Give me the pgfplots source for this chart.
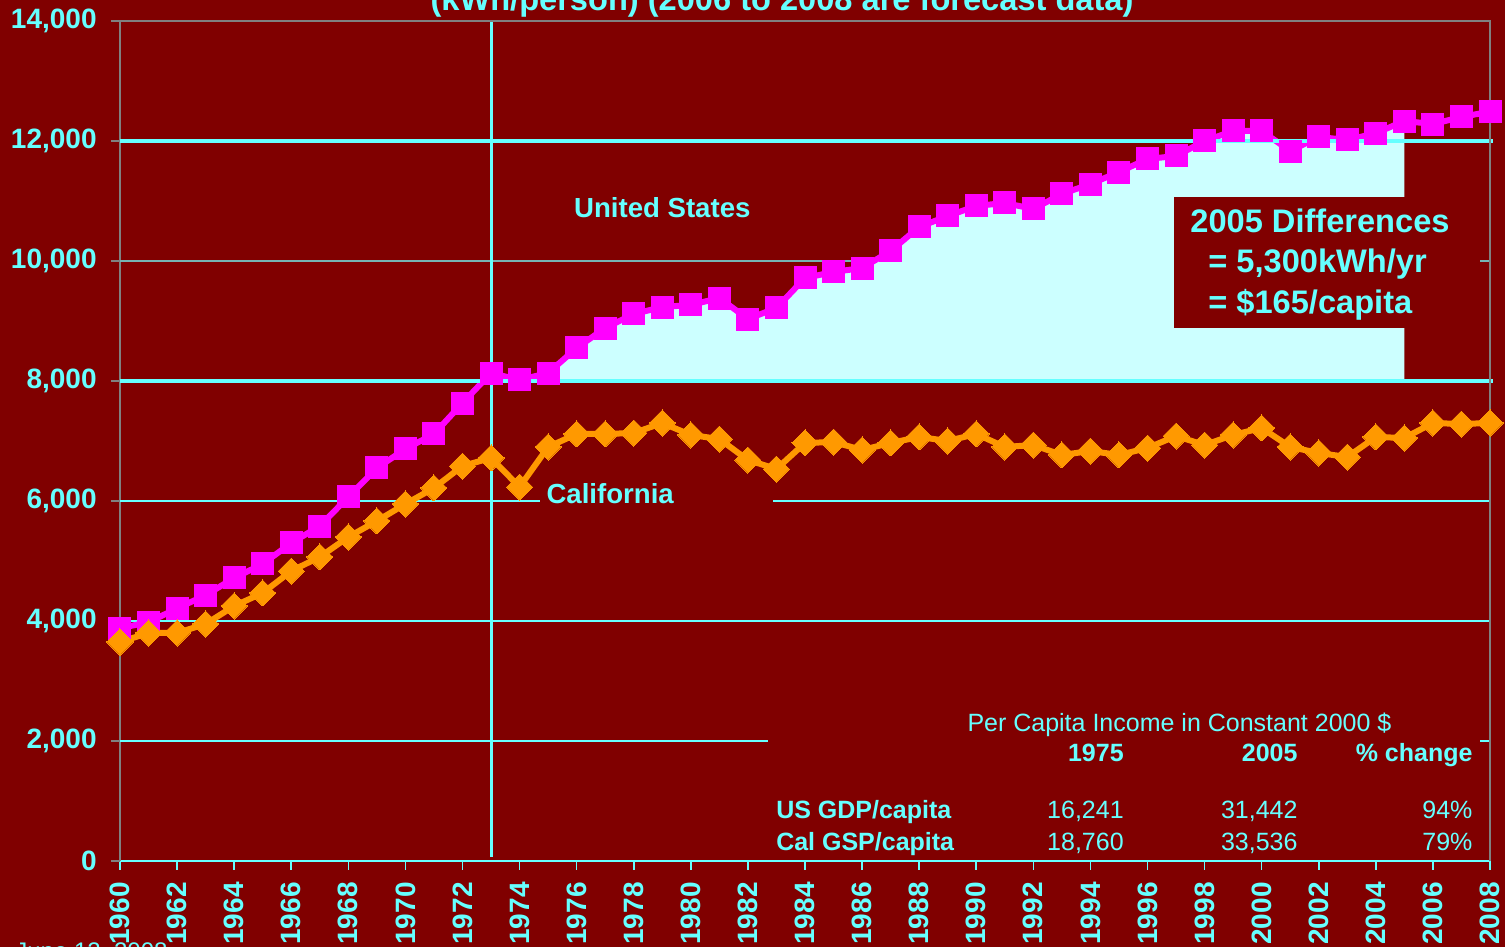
\documentclass[border=0pt]{standalone}
\usepackage{fontspec}
\setmainfont{Liberation Sans}
\usepackage{pgfplots}
\pgfplotsset{compat=1.18}
\usepackage{pgfplotstable}
\definecolor{bgred}{RGB}{128,0,0}
\definecolor{tcyan}{RGB}{102,255,255}
\definecolor{usmag}{RGB}{255,0,255}
\definecolor{caor}{RGB}{255,153,0}
\definecolor{fillc}{RGB}{204,255,255}
\definecolor{fgray}{RGB}{128,128,128}

\pgfplotstableread{
year val
1960 3880
1961 3980
1962 4210
1963 4430
1964 4717
1965 4950
1966 5300
1967 5583
1968 6067
1969 6550
1970 6867
1971 7117
1972 7633
1973 8133
1974 8017
1975 8133
1976 8550
1977 8883
1978 9117
1979 9233
1980 9267
1981 9383
1982 9033
1983 9217
1984 9717
1985 9817
1986 9883
1987 10167
1988 10567
1989 10750
1990 10917
1991 10967
1992 10867
1993 11117
1994 11283
1995 11483
1996 11700
1997 11750
1998 12000
1999 12167
2000 12167
2001 11833
2002 12067
2003 12017
2004 12130
2005 12333
2006 12283
2007 12400
2008 12490
}\usdata

\pgfplotstableread{
year val
1960 3650
1961 3800
1962 3800
1963 3950
1964 4250
1965 4467
1966 4833
1967 5067
1968 5400
1969 5667
1970 5950
1971 6217
1972 6583
1973 6717
1974 6233
1975 6900
1976 7117
1977 7117
1978 7133
1979 7300
1980 7100
1981 7033
1982 6683
1983 6533
1984 6967
1985 6983
1986 6850
1987 6967
1988 7067
1989 7000
1990 7117
1991 6900
1992 6933
1993 6767
1994 6833
1995 6767
1996 6883
1997 7083
1998 6933
1999 7100
2000 7217
2001 6900
2002 6800
2003 6733
2004 7067
2005 7050
2006 7300
2007 7283
2008 7300
}\cadata

\pgfplotstableread{
year val
1975 8000
1975 8133
1976 8550
1977 8883
1978 9117
1979 9233
1980 9267
1981 9383
1982 9033
1983 9217
1984 9717
1985 9817
1986 9883
1987 10167
1988 10567
1989 10750
1990 10917
1991 10967
1992 10867
1993 11117
1994 11283
1995 11483
1996 11700
1997 11750
1998 12000
1999 12167
2000 12167
2001 11833
2002 12067
2003 12017
2004 12130
2005 12333
2005 8000
}\filldata

\begin{document}
\begin{tikzpicture}
\path[use as bounding box] (0,0) rectangle (752.5pt,473.5pt);
\clip (0,0) rectangle (752.5pt,473.5pt);
\fill[bgred] (0,0) rectangle (752.5pt,473.5pt);
\node[anchor=base, text=tcyan, inner sep=0pt, font=\bfseries\fontsize{16.3}{19}\selectfont] at (391pt,468pt) {(kWh/person) (2006 to 2008 are forecast data)};
\node[anchor=base west, text=tcyan, inner sep=0pt, font=\fontsize{12}{14}\selectfont] at (7.5pt,-6.5pt) {June 12, 2008};
\begin{axis}[
  at={(60pt,43pt)}, anchor=south west,
  width=685pt, height=420pt, scale only axis,
  xmin=1960, xmax=2008, ymin=0, ymax=14000,
  axis x line*=bottom, axis y line*=left,
  x axis line style={tcyan, line width=1pt, -},
  y axis line style={fgray, line width=1pt, -},
  xtick={1960,1962,...,2008}, minor x tick num=1,
  ytick={0,2000,...,14000},
  tick align=outside, major tick length=4.5pt, minor tick length=4.5pt,
  every x tick/.style={tcyan, line width=0.8pt},
  every minor x tick/.style={tcyan, line width=0.8pt},
  every y tick/.style={fgray, line width=0.8pt},
  xticklabel style={rotate=90, anchor=east, text=tcyan, inner sep=0pt, xshift=-6pt,
     font=\bfseries\fontsize{14}{16}\selectfont,
     /pgf/number format/1000 sep=, /pgf/number format/assume math mode=true},
  yticklabel style={anchor=east, text=tcyan, inner sep=0pt, xshift=-7pt,
     font=\bfseries\fontsize{14}{16}\selectfont,
     /pgf/number format/1000 sep={,}, /pgf/number format/assume math mode=true},
  scaled y ticks=false,
  clip=false,
]
% thin gridlines
\draw[tcyan, line width=1pt] (axis cs:1960,2000) -- (axis cs:2008,2000);
\draw[tcyan, line width=1pt] (axis cs:1960,4000) -- (axis cs:2008,4000);
\draw[tcyan, line width=1pt] (axis cs:1960,6000) -- (axis cs:2008,6000);
\draw[fgray!60!tcyan, line width=0.8pt] (axis cs:1960,10000) -- (axis cs:2008,10000);
% difference area
\addplot[fill=fillc, draw=none] table[x=year, y=val] {\filldata} -- cycle;
% background boxes behind texts
\fill[bgred] (axis cs:1974.7,5650) rectangle (axis cs:1982.88,6300);
\fill[bgred] (axis cs:1982.7,50) rectangle (axis cs:2007.65,2683);
\fill[bgred] (axis cs:1996.93,8883) rectangle (axis cs:2007.65,11067);
% data
\addplot[usmag, line width=3pt, mark=square*, mark size=5.5pt, mark options={solid, fill=usmag, draw=usmag, line width=0pt}] table[x=year, y=val] {\usdata};
\addplot[caor, line width=3pt, mark=square*, mark size=4.6pt, mark options={solid, rotate=45, fill=caor, draw=caor, line width=0pt}] table[x=year, y=val] {\cadata};
% thick lines
\draw[tcyan, line width=2pt] (axis cs:1960,8000) -- (axis cs:2008.1,8000);
\draw[tcyan, line width=2pt] (axis cs:1960,12000) -- (axis cs:2008.1,12000);
\draw[tcyan, line width=1.5pt] (axis cs:1973,14000) -- (axis cs:1973,60);
% frame
\draw[fgray, line width=1pt] (axis cs:1960,14000) -- (axis cs:2008,14000) -- (axis cs:2008,0);
% labels
\node[anchor=base, text=tcyan, inner sep=0pt, font=\bfseries\fontsize{13.8}{16}\selectfont] at (axis cs:1979,10733) {United States};
\node[anchor=base west, text=tcyan, inner sep=0pt, font=\bfseries\fontsize{13.8}{16}\selectfont] at (axis cs:1974.93,5950) {California};
\node[anchor=base west, text=tcyan, inner sep=0pt, font=\bfseries\fontsize{16.3}{19}\selectfont] at (axis cs:1997.49,10483) {2005 Differences};
\node[anchor=base west, text=tcyan, inner sep=0pt, font=\bfseries\fontsize{16.3}{19}\selectfont] at (axis cs:1998.12,9800) {= 5,300kWh/yr};
\node[anchor=base west, text=tcyan, inner sep=0pt, font=\bfseries\fontsize{16.3}{19}\selectfont] at (axis cs:1998.12,9117) {= \$165/capita};
% table
\node[anchor=base west, text=tcyan, inner sep=0pt, font=\fontsize{12.5}{15}\selectfont] at (axis cs:1989.68,2150) {Per Capita Income in Constant 2000 \$};
\node[anchor=base east, text=tcyan, inner sep=0pt, font=\bfseries\fontsize{12.5}{15}\selectfont] at (axis cs:1995.18,1650) {1975};
\node[anchor=base east, text=tcyan, inner sep=0pt, font=\bfseries\fontsize{12.5}{15}\selectfont] at (axis cs:2001.27,1650) {2005};
\node[anchor=base east, text=tcyan, inner sep=0pt, font=\bfseries\fontsize{12.5}{15}\selectfont] at (axis cs:2007.40,1650) {\% change};
\node[anchor=base west, text=tcyan, inner sep=0pt, font=\bfseries\fontsize{12.5}{15}\selectfont] at (axis cs:1982.98,700) {US GDP/capita};
\node[anchor=base west, text=tcyan, inner sep=0pt, font=\bfseries\fontsize{12.5}{15}\selectfont] at (axis cs:1982.98,183) {Cal GSP/capita};
\node[anchor=base east, text=tcyan, inner sep=0pt, font=\fontsize{12.5}{15}\selectfont] at (axis cs:1995.18,700) {16,241};
\node[anchor=base east, text=tcyan, inner sep=0pt, font=\fontsize{12.5}{15}\selectfont] at (axis cs:2001.27,700) {31,442};
\node[anchor=base east, text=tcyan, inner sep=0pt, font=\fontsize{12.5}{15}\selectfont] at (axis cs:2007.40,700) {94\%};
\node[anchor=base east, text=tcyan, inner sep=0pt, font=\fontsize{12.5}{15}\selectfont] at (axis cs:1995.18,183) {18,760};
\node[anchor=base east, text=tcyan, inner sep=0pt, font=\fontsize{12.5}{15}\selectfont] at (axis cs:2001.27,183) {33,536};
\node[anchor=base east, text=tcyan, inner sep=0pt, font=\fontsize{12.5}{15}\selectfont] at (axis cs:2007.40,183) {79\%};
\end{axis}
\end{tikzpicture}
\end{document}
